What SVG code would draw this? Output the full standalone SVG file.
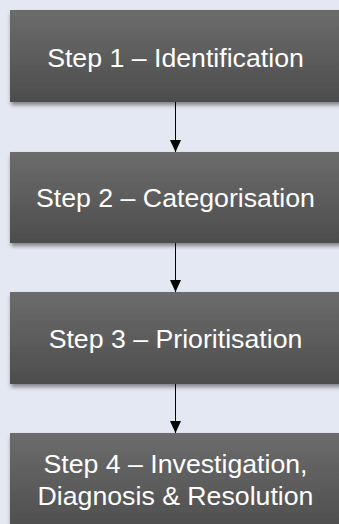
<svg xmlns="http://www.w3.org/2000/svg" width="339" height="524" viewBox="0 0 339 524">
  <defs>
    <linearGradient id="boxFill" x1="0" y1="0" x2="0" y2="1">
      <stop offset="0" stop-color="#6c6c6c"/>
      <stop offset="1" stop-color="#4d4d4d"/>
    </linearGradient>
    <filter id="shadow" x="-10%" y="-10%" width="120%" height="130%">
      <feGaussianBlur in="SourceAlpha" stdDeviation="2"/>
      <feOffset dx="1" dy="3" result="b"/>
      <feComponentTransfer><feFuncA type="linear" slope="0.45"/></feComponentTransfer>
      <feMerge><feMergeNode/><feMergeNode in="SourceGraphic"/></feMerge>
    </filter>
    <marker id="arrow" viewBox="0 0 12 11" refX="12" refY="5.5" markerWidth="12" markerHeight="11" markerUnits="userSpaceOnUse" orient="auto">
      <path d="M0,0 L12,5.5 L0,11 Z" fill="#000"/>
    </marker>
  </defs>
  <style>
    .box { fill: url(#boxFill); filter: url(#shadow); }
    .label { fill: #ffffff; font-family: "Liberation Sans", Arial, sans-serif; font-size: 26.7px; text-anchor: middle; }
    .link { stroke: #000; stroke-width: 1; fill: none; marker-end: url(#arrow); }
  </style>
  <rect width="339" height="524" fill="#e4e8f2"/>

  <g id="connectors">
    <line class="link" x1="175.5" y1="102" x2="175.5" y2="152"/>
    <line class="link" x1="175.5" y1="243" x2="175.5" y2="292"/>
    <line class="link" x1="175.5" y1="384" x2="175.5" y2="433"/>
  </g>

  <g id="step1">
    <rect class="box" x="10" y="10" width="331" height="92"/>
    <text class="label" x="175.5" y="66.5">Step 1 – Identification</text>
  </g>
  <g id="step2">
    <rect class="box" x="10" y="152" width="331" height="91"/>
    <text class="label" x="175.5" y="206.7">Step 2 – Categorisation</text>
  </g>
  <g id="step3">
    <rect class="box" x="10" y="292" width="331" height="92"/>
    <text class="label" x="175.5" y="348.3">Step 3 – Prioritisation</text>
  </g>
  <g id="step4">
    <rect class="box" x="10" y="433" width="331" height="100"/>
    <text class="label" x="175.5" y="472.5">Step 4 – Investigation,</text>
    <text class="label" x="175.5" y="504.5">Diagnosis &amp; Resolution</text>
  </g>
</svg>
